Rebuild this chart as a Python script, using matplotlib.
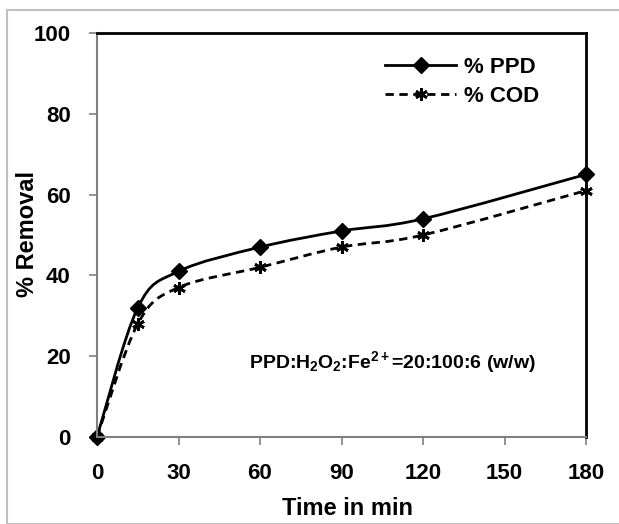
import matplotlib
matplotlib.use("Agg")
import matplotlib.pyplot as plt
from matplotlib.path import Path
from matplotlib.patches import PathPatch, Rectangle
from matplotlib.lines import Line2D

plt.rcParams['font.family'] = 'Liberation Sans'
plt.rcParams['font.weight'] = 'bold'
plt.rcParams['mathtext.fontset'] = 'custom'
plt.rcParams['mathtext.rm'] = 'Liberation Sans:bold'
plt.rcParams['mathtext.it'] = 'Liberation Sans:bold'
plt.rcParams['mathtext.bf'] = 'Liberation Sans:bold'

# donnees
temps = [0, 15, 30, 60, 90, 120, 180]
ppd = [0, 32, 41, 47, 51, 54, 65]
cod = [0, 28, 37, 42, 47, 50, 61]
xticks = [0, 30, 60, 90, 120, 150, 180]
yticks = [0, 20, 40, 60, 80, 100]


def courbe_lisse(x, y):
    # trace lisse facon Excel (bezier cubique entre les points)
    n = len(x)
    verts = [(x[0], y[0])]
    codes = [Path.MOVETO]
    for i in range(n - 1):
        x0, y0 = (x[i - 1], y[i - 1]) if i > 0 else (x[i], y[i])
        x3, y3 = (x[i + 2], y[i + 2]) if i + 2 < n else (x[i + 1], y[i + 1])
        c1 = (x[i] + (x[i + 1] - x0) / 6, y[i] + (y[i + 1] - y0) / 6)
        c2 = (x[i + 1] - (x3 - x[i]) / 6, y[i + 1] - (y3 - y[i]) / 6)
        verts += [c1, c2, (x[i + 1], y[i + 1])]
        codes += [Path.CURVE4] * 3
    return Path(verts, codes)


fig = plt.figure(figsize=(6.19, 5.24), dpi=100)
fig.patches.append(Rectangle((7 / 619, 0), 1, 1 - 10 / 524, transform=fig.transFigure,
                             fill=False, edgecolor='#c0c0c0', linewidth=1.5))
ax = fig.add_axes([97 / 619, 1 - 437 / 524, 489 / 619, 404 / 524])

ax.add_patch(PathPatch(courbe_lisse(temps, ppd), fill=False, edgecolor='black', lw=2))
ax.add_patch(PathPatch(courbe_lisse(temps, cod), fill=False, edgecolor='black', lw=2,
                       linestyle=(0, (3, 2))))
ax.plot(temps, ppd, linestyle='none', marker='D', color='black', markersize=8, clip_on=False)
ax.plot(temps, cod, linestyle='none', marker=(6, 2, 0), color='black', markersize=9,
        markeredgewidth=2, clip_on=False)

ax.set_xlim(0, 180)
ax.set_ylim(0, 100)
ax.set_xticks(xticks)
ax.set_yticks(yticks)
ax.tick_params(direction='out', length=6, width=1.2, color='#808080', labelsize=16, pad=13)
for s in ['left', 'bottom']:
    ax.spines[s].set_color('#808080')
    ax.spines[s].set_linewidth(1.5)
for s in ['top', 'right']:
    ax.spines[s].set_color('black')
    ax.spines[s].set_linewidth(2)

ax.set_xlabel('Time in min', fontsize=17, fontweight='bold')
ax.set_ylabel('% Removal', fontsize=17, fontweight='bold')
ax.xaxis.set_label_coords(0.512, -0.176)
ax.xaxis.label.set_va('center')
ax.yaxis.set_label_coords(-0.142, 0.502)
ax.yaxis.label.set_va('center')

poignees = [
    Line2D([], [], color='black', lw=2, marker='D', markersize=8),
    Line2D([], [], color='black', lw=2, linestyle=(0, (3, 2)), marker=(6, 2, 0),
           markersize=9, markeredgewidth=2),
]
ax.legend(poignees, ['% PPD', '% COD'], loc='upper left', bbox_to_anchor=(385 / 619, 1 - 57 / 524),
          bbox_transform=fig.transFigure, borderaxespad=0, borderpad=0,
          frameon=False, fontsize=16, handlelength=3.2, labelspacing=0.35, handletextpad=0.35)

ax.text(108.6, 18.6, 'PPD:H$_2$O$_2$:Fe$^{2+}$=20:100:6 (w/w)', ha='center', va='center',
        fontsize=14, fontweight='bold')

fig.savefig('out.png', dpi=100)
